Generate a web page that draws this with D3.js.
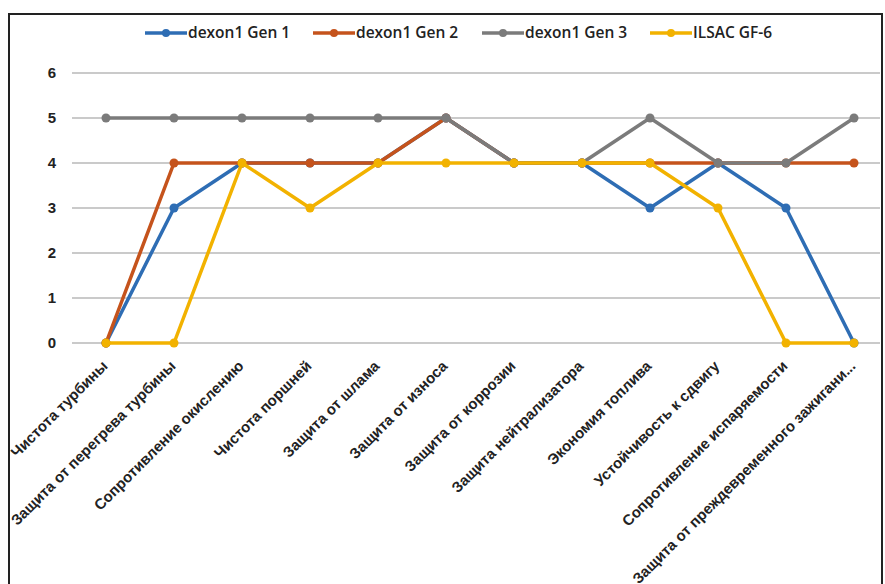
<!DOCTYPE html>
<html>
<head>
<meta charset="utf-8">
<script src="https://cdn.jsdelivr.net/npm/d3@7"></script>
<style>
  body { margin: 0; background: #fff; }
  svg { display: block; font-family: "Open Sans", "Liberation Sans", sans-serif; }
</style>
</head>
<body>
<div id="chart"></div>
<script>
// категории (ось X)
var categories = [
    "Чистота турбины",
    "Защита от перегрева турбины",
    "Сопротивление окислению",
    "Чистота поршней",
    "Защита от шлама",
    "Защита от износа",
    "Защита от коррозии",
    "Защита нейтрализатора",
    "Экономия топлива",
    "Устойчивость к сдвигу",
    "Сопротивление испаряемости",
    "Защита от преждевременного зажигани..."
];

// значения серий
var gen1 = [0, 3, 4, 4, 4, 5, 4, 4, 3, 4, 3, 0];
var gen2 = [0, 4, 4, 4, 4, 5, 4, 4, 4, 4, 4, 4];
var gen3 = [5, 5, 5, 5, 5, 5, 4, 4, 5, 4, 4, 5];
var ilsac = [0, 0, 4, 3, 4, 4, 4, 4, 4, 3, 0, 0];

var seriesNames = ["dexon1 Gen 1", "dexon1 Gen 2", "dexon1 Gen 3", "ILSAC GF-6"];
var yTicks = [0, 1, 2, 3, 4, 5, 6];

var colors = ["#2e6db4", "#c5531c", "#7b7b7b", "#f2b200"];
var seriesData = [gen1, gen2, gen3, ilsac];

var width = 885, height = 584;

var svg = d3.select("#chart")
    .append("svg")
    .attr("width", width)
    .attr("height", height);

// рамка
svg.append("rect")
    .attr("x", 9).attr("y", 14)
    .attr("width", 873).attr("height", 580)
    .attr("fill", "none")
    .attr("stroke", "#222")
    .attr("stroke-width", 2);

var xScale = d3.scalePoint()
    .domain(categories)
    .range([72, 888])
    .padding(0.5);

var yScale = d3.scaleLinear()
    .domain([0, 6])
    .range([343, 73]);

// сетка
svg.append("g")
    .selectAll("line")
    .data(yTicks)
    .enter()
    .append("line")
    .attr("x1", 72)
    .attr("x2", 880)
    .attr("y1", function(d) { return yScale(d); })
    .attr("y2", function(d) { return yScale(d); })
    .attr("stroke", "#b8b8b8")
    .attr("stroke-width", 1.5);

// ось Y
var yAxis = d3.axisLeft(yScale).tickValues(yTicks).tickFormat(d3.format("d")).tickSize(0).tickPadding(0);
var gy = svg.append("g").attr("transform", "translate(56,0)").call(yAxis);
gy.select(".domain").remove();
gy.selectAll("text")
    .attr("font-size", 15)
    .attr("font-weight", 600)
    .attr("fill", "#222");

// ось X
var xAxis = d3.axisBottom(xScale).tickSize(0).tickPadding(0);
var gx = svg.append("g").attr("transform", "translate(0,343)").call(xAxis);
gx.select(".domain").remove();
gx.selectAll("text")
    .attr("font-size", 15)
    .attr("font-weight", 600)
    .attr("fill", "#222")
    .attr("text-anchor", "end")
    .attr("dy", 0)
    .attr("transform", "translate(2,24) rotate(-45)");

// линии
var line = d3.line()
    .x(function(d, i) { return xScale(categories[i]); })
    .y(function(d) { return yScale(d); });

seriesData.forEach(function(values, s) {
    var g = svg.append("g");
    g.append("path")
        .datum(values)
        .attr("d", line)
        .attr("fill", "none")
        .attr("stroke", colors[s])
        .attr("stroke-width", 3.5)
        .attr("stroke-linejoin", "round");
    g.selectAll("circle")
        .data(values)
        .enter()
        .append("circle")
        .attr("cx", function(d, i) { return xScale(categories[i]); })
        .attr("cy", function(d) { return yScale(d); })
        .attr("r", 4.5)
        .attr("fill", colors[s]);
});

// легенда
var legendX = [145, 313, 482, 650];
var legend = svg.append("g");
seriesNames.forEach(function(name, s) {
    var lg = legend.append("g").attr("transform", "translate(" + legendX[s] + ",33)");
    lg.append("line")
        .attr("x1", 0).attr("x2", 42)
        .attr("stroke", colors[s])
        .attr("stroke-width", 3.5);
    lg.append("circle")
        .attr("cx", 21).attr("r", 4)
        .attr("fill", colors[s]);
    lg.append("text")
        .attr("x", 43)
        .attr("dy", "0.35em")
        .attr("font-size", 15.5)
        .attr("font-weight", 600)
        .attr("fill", "#222")
        .text(name);
});
</script>
</body>
</html>
